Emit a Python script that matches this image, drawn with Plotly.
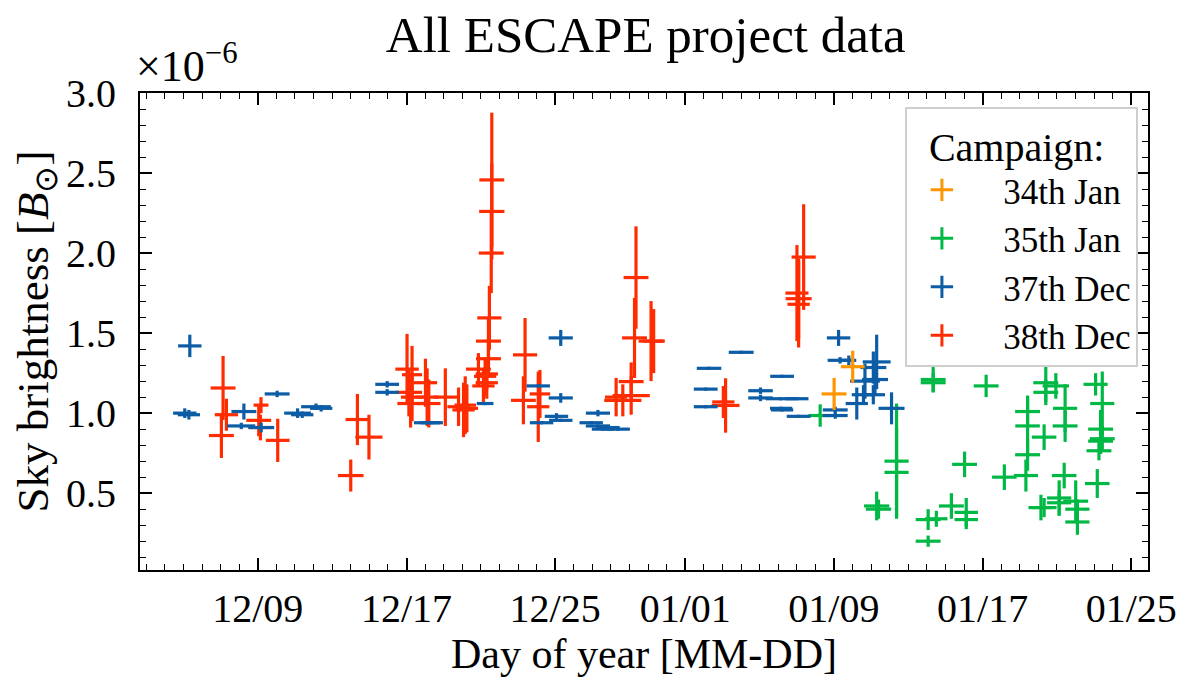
import pandas as pd
import plotly.graph_objects as go

# ---------------- data (x: days since 2022-12-01 00:00, y: sky brightness in units of 1e-6 B_sun) -------------
START = "2022-12-01"

# 34th Jan campaign
x34 = [40.01, 39.01]
xe34 = [0.64, 0.67]
y34 = [1.29, 1.12]
ye34 = [0.10, 0.10]

# 35th Jan campaign
x35 = [38.26, 42.37, 42.37, 44.34, 44.34, 47.19, 41.30, 41.40, 44.07, 44.07,
       44.51, 45.32, 46.12, 46.12, 46.03, 48.17, 49.33, 49.42, 49.42, 49.42,
       50.31, 50.40, 50.40, 50.94, 51.44, 51.44, 53.08, 53.44, 53.35, 53.44,
       53.35, 53.26, 53.17, 51.39, 51.12, 51.12, 50.14, 50.31, 52.01, 52.10,
       52.10]
xe35 = [0.63, 0.65, 0.65, 0.67, 0.67, 0.67, 0.68, 0.68, 0.67, 0.67,
        0.60, 0.67, 0.63, 0.63, 0.67, 0.66, 0.65, 0.67, 0.66, 0.67,
        0.66, 0.67, 0.67, 0.71, 0.65, 0.67, 0.65, 0.65, 0.67, 0.67,
        0.67, 0.67, 0.66, 0.66, 0.65, 0.65, 0.67, 0.67, 0.67, 0.65,
        0.65]
y35 = [0.985, 0.70, 0.63, 1.21, 1.19, 1.17, 0.42, 0.40, 0.335, 0.20,
       0.34, 0.42, 0.38, 0.335, 0.68, 0.60, 0.61, 0.74, 0.92, 1.01,
       0.85, 1.19, 1.13, 1.17, 1.03, 0.92, 1.18, 1.06, 0.90, 0.84,
       0.825, 0.765, 0.56, 0.61, 0.47, 0.44, 0.41, 0.41, 0.45, 0.40,
       0.32]
ye35 = [0.07, 0.36, 0.28, 0.08, 0.06, 0.07, 0.09, 0.06, 0.065, 0.035,
        0.05, 0.08, 0.09, 0.06, 0.08, 0.08, 0.10, 0.10, 0.17, 0.10,
        0.08, 0.12, 0.08, 0.08, 0.15, 0.10, 0.07, 0.20, 0.12, 0.08,
        0.08, 0.06, 0.09, 0.08, 0.11, 0.08, 0.08, 0.06, 0.13, 0.06,
        0.08]

# 37th Dec campaign
x37 = [4.34, 4.07, 4.29, 7.25, 7.11, 8.18, 9.04, 10.14, 10.39, 11.13,
       11.41, 14.96, 14.96, 17.11, 17.36, 20.23, 24.30, 23.09, 24.30, 23.27,
       24.07, 24.30, 26.30, 25.94, 26.30, 26.84, 27.37, 26.57, 32.28, 32.10,
       32.10, 34.01, 35.05, 35.05, 36.21, 36.12, 37.01, 36.16, 36.21, 37.10,
       39.25, 39.33, 39.07, 39.07, 40.23, 40.67, 41.12, 41.30, 41.21, 41.12,
       40.59, 42.10, 39.80]
xe37 = [0.63, 0.63, 0.60, 0.67, 0.75, 0.70, 0.67, 0.72, 0.60, 0.80,
        0.60, 0.64, 0.64, 0.71, 0.60, 0.45, 0.65, 0.63, 0.65, 0.63,
        0.63, 0.63, 0.65, 0.63, 0.65, 0.63, 0.65, 0.60, 0.66, 0.64,
        0.64, 0.67, 0.66, 0.66, 0.64, 0.80, 0.62, 0.60, 0.60, 0.64,
        0.63, 0.67, 0.67, 0.67, 0.60, 0.80, 0.70, 0.75, 0.70, 0.63,
        0.63, 0.70, 0.40]
y37 = [1.42, 1.00, 0.99, 1.01, 0.92, 0.91, 1.12, 1.00, 0.99, 1.04,
       1.03, 1.18, 1.13, 0.94, 0.94, 1.06, 1.47, 1.17, 1.095, 0.94,
       0.98, 0.955, 1.00, 0.94, 0.92, 0.91, 0.90, 0.90, 1.28, 1.15,
       1.04, 1.38, 1.14, 1.095, 1.23, 1.09, 1.09, 1.03, 1.02, 0.98,
       1.47, 1.33, 1.02, 0.985, 1.06, 1.20, 1.285, 1.32, 1.21, 1.115,
       1.115, 1.03, 1.33]
ye37 = [0.07, 0.03, 0.03, 0.05, 0.02, 0.03, 0.02, 0.03, 0.02, 0.02,
        0.02, 0.02, 0.02, 0.01, 0.01, 0.01, 0.05, 0.01, 0.03, 0.01,
        0.02, 0.01, 0.02, 0.01, 0.01, 0.01, 0.01, 0.01, 0.01, 0.01,
        0.01, 0.01, 0.02, 0.02, 0.01, 0.01, 0.01, 0.01, 0.01, 0.01,
        0.05, 0.02, 0.02, 0.02, 0.10, 0.11, 0.10, 0.17, 0.10, 0.06,
        0.06, 0.10, 0.03]

# 38th Dec campaign
x38 = [6.13, 6.04, 6.31, 8.05, 8.14, 8.17, 9.07, 13.00, 13.36, 13.98,
       16.03, 16.30, 16.13, 16.30, 16.22, 17.02, 17.11, 17.20, 18.09, 19.16,
       19.25, 18.80, 19.07, 19.87, 20.23, 20.32, 20.14, 20.41, 20.41, 20.46,
       20.56, 20.59, 20.59, 20.32, 22.38, 22.29, 23.18, 23.09, 28.35, 28.27,
       29.16, 29.30, 28.09, 28.09, 27.64, 27.28, 33.17, 33.05, 37.37, 37.01,
       37.10, 37.10]
xe38 = [0.67, 0.67, 0.63, 0.67, 0.60, 0.40, 0.64, 0.69, 0.64, 0.73,
        0.63, 0.54, 0.71, 0.60, 0.71, 0.63, 0.63, 0.63, 0.63, 0.58,
        0.60, 0.60, 0.60, 0.67, 0.60, 0.60, 0.60, 0.67, 0.67, 0.65,
        0.67, 0.68, 0.67, 0.60, 0.65, 0.67, 0.55, 0.60, 0.67, 0.67,
        0.67, 0.60, 0.67, 1.00, 1.00, 0.60, 0.75, 0.60, 0.65, 0.62,
        0.70, 0.60]
y38 = [1.157, 0.86, 0.99, 0.955, 0.91, 1.05, 0.83, 0.61, 0.96, 0.85,
       1.275, 1.24, 1.13, 1.10, 1.06, 1.19, 1.10, 1.06, 1.10, 1.05,
       1.03, 1.04, 1.02, 1.275, 1.23, 1.19, 1.17, 1.34, 1.45, 1.595,
       2.00, 2.26, 2.457, 1.245, 1.364, 1.08, 1.12, 1.04, 1.847, 1.47,
       1.45, 1.45, 1.197, 1.11, 1.08, 1.10, 1.048, 1.07, 1.975, 1.75,
       1.715, 1.68]
ye38 = [0.20, 0.14, 0.10, 0.10, 0.08, 0.05, 0.135, 0.10, 0.16, 0.14,
        0.22, 0.18, 0.15, 0.15, 0.15, 0.15, 0.18, 0.15, 0.18, 0.18,
        0.15, 0.12, 0.17, 0.10, 0.12, 0.10, 0.10, 0.12, 0.15, 0.20,
        0.25, 0.30, 0.42, 0.10, 0.23, 0.15, 0.15, 0.22, 0.32, 0.25,
        0.25, 0.20, 0.12, 0.12, 0.10, 0.12, 0.17, 0.10, 0.33, 0.30,
        0.25, 0.27]

campaign_names = ["34th Jan", "35th Jan", "37th Dec", "38th Dec"]
campaign_colors = ["#FF9500", "#00B945", "#0C5DA5", "#FF2C00"]

tick_dates = ["2022-12-09", "2022-12-17", "2022-12-25", "2023-01-01",
              "2023-01-09", "2023-01-17", "2023-01-25"]
y_ticks = [0.5, 1.0, 1.5, 2.0, 2.5, 3.0]
x_range = [1.66, 55.9]
y_range = [0.02, 3.0]

# ---------------- figure ----------------
FONT = "Liberation Serif"
NB = "\u00a0"
start = pd.Timestamp(START)
tick_pos = [(pd.Timestamp(d) - start).days for d in tick_dates]
tick_txt = [pd.Timestamp(d).strftime("%m/%d") for d in tick_dates]

series = {
    "34th Jan": (x34, xe34, y34, ye34),
    "35th Jan": (x35, xe35, y35, ye35),
    "37th Dec": (x37, xe37, y37, ye37),
    "38th Dec": (x38, xe38, y38, ye38),
}
color_of = dict(zip(campaign_names, campaign_colors))

fig = go.Figure()
draw_order = ["38th Dec", "35th Jan", "37th Dec", "34th Jan"]
for name in draw_order:
    xs, xes, ys, yes = series[name]
    c = color_of[name]
    fig.add_trace(go.Scatter(
        x=xs, y=ys, mode="markers", showlegend=False,
        marker=dict(size=1, color=c),
        error_x=dict(type="data", array=xes, symmetric=True, color=c, thickness=3.2, width=0),
        error_y=dict(type="data", array=yes, symmetric=True, color=c, thickness=3.2, width=0),
        hoverinfo="skip",
    ))

for name in campaign_names:
    c = color_of[name]
    fig.add_trace(go.Scatter(
        x=[None], y=[None], mode="markers", name=NB * 3 + name,
        marker=dict(symbol="cross-thin", size=16, color=c, line=dict(color=c, width=3)),
    ))

axis_common = dict(
    showline=True, linecolor="black", linewidth=2, mirror="ticks",
    ticks="inside", ticklen=12, tickwidth=1.6, tickcolor="black",
    showgrid=False, zeroline=False,
    tickfont=dict(family=FONT, size=40, color="black"),
)

fig.update_xaxes(
    range=x_range, tickmode="array", tickvals=tick_pos, ticktext=tick_txt,
    minor=dict(ticks="inside", ticklen=6, tickwidth=1.2, tickcolor="black", dtick=1, tick0=0, showgrid=False),
    title=dict(text="Day of year [MM-DD]", font=dict(family=FONT, size=42, color="black"), standoff=6),
    ticklabelstandoff=2,
    **axis_common,
)
fig.update_yaxes(
    range=y_range, tickmode="array", tickvals=y_ticks,
    ticktext=[f"{v:.1f}" for v in y_ticks],
    minor=dict(ticks="inside", ticklen=6, tickwidth=1.2, tickcolor="black", dtick=0.1, tick0=0, showgrid=False),
    title=dict(text="Sky brightness [<i>B</i><sub>⊙</sub>]", font=dict(family=FONT, size=45, color="black"), standoff=10),
    ticklabelstandoff=14,
    **axis_common,
)

fig.add_annotation(
    text="×10<sup>−6</sup>", xref="paper", yref="paper", x=0, y=1.0,
    xanchor="left", yanchor="bottom", showarrow=False, yshift=0, xshift=-6,
    font=dict(family=FONT, size=44, color="black"),
)

fig.update_layout(
    width=1181, height=670,
    margin=dict(l=132, r=36, t=85, b=104),
    paper_bgcolor="white", plot_bgcolor="white",
    title=dict(text="All ESCAPE project data", x=0.54, xanchor="center", y=0.987, yanchor="top",
               font=dict(family=FONT, size=51, color="black")),
    legend=dict(
        x=0.99, y=0.9715, xanchor="right", yanchor="top",
        bgcolor="white", bordercolor="#cfcfcf", borderwidth=2,
        font=dict(family=FONT, size=35, color="black"),
        title=dict(text=NB * 2 + "Campaign:", font=dict(family=FONT, size=40, color="black")),
        itemwidth=60, tracegroupgap=0,
    ),
)

fig.write_html("out.html")
